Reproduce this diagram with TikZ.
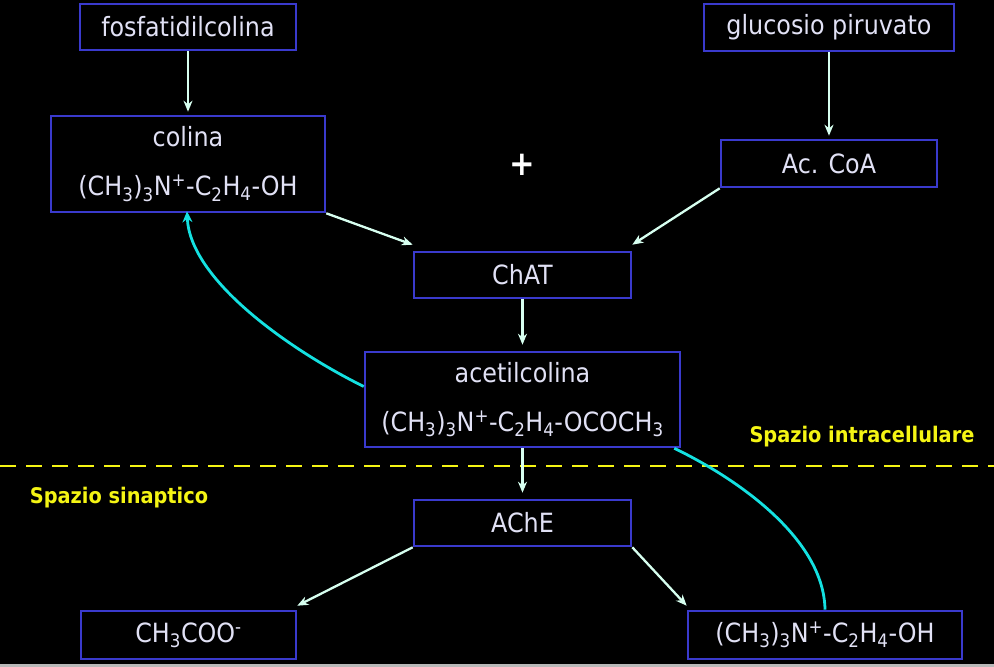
\documentclass[tikz,border=0pt]{standalone}
\usepackage{fontspec}
\setmainfont{DejaVu Sans Condensed}
\usetikzlibrary{arrows.meta,calc}
\definecolor{boxblue}{RGB}{58,58,205}
\definecolor{txt}{RGB}{225,225,245}
\definecolor{arr}{RGB}{215,255,240}
\definecolor{cy}{RGB}{20,225,225}
\definecolor{yel}{RGB}{245,245,20}
\tikzset{
  box/.style={draw=boxblue, line width=2.6pt, text=txt, inner sep=0pt, align=center,
    font=\fontsize{26.5}{49}\selectfont},
  flow/.style={draw=arr, line width=2.3pt, -{Stealth[length=11pt,width=9pt]}},
  recyc/.style={draw=cy, line width=2.8pt},
  lbl/.style={text=yel, font=\fontsize{21.5}{24}\selectfont\bfseries},
}
\begin{document}
\begin{tikzpicture}[x=1pt,y=-1pt]
\fill[black] (0,0) rectangle (994,667);
\fill[gray!55] (0,664) rectangle (994,667);
\useasboundingbox (0,0) rectangle (994,667);

\node[box, minimum width=216pt, minimum height=46pt] (fos) at (188,27) {fosfatidilcolina};
\node[box, minimum width=274pt, minimum height=96pt] (colina) at (188,164)
  {colina\\(CH\textsubscript{3})\textsubscript{3}N\textsuperscript{+}-C\textsubscript{2}H\textsubscript{4}-OH};
\node[box, minimum width=250pt, minimum height=47pt] (gluc) at (829,27.5) {glucosio piruvato};
\node[box, minimum width=216pt, minimum height=47pt] (acoa) at (829,163.5) {Ac. CoA};
\node[box, minimum width=217pt, minimum height=46pt] (chat) at (522.5,275) {ChAT};
\node[box, minimum width=315pt, minimum height=95pt] (acet) at (522.5,399.5)
  {acetilcolina\\(CH\textsubscript{3})\textsubscript{3}N\textsuperscript{+}-C\textsubscript{2}H\textsubscript{4}-OCOCH\textsubscript{3}};
\node[box, minimum width=217pt, minimum height=46pt] (ache) at (522.5,523) {AChE};
\node[box, minimum width=215pt, minimum height=48pt] (acetate) at (188.5,635) {CH\textsubscript{3}COO\textsuperscript{-}};
\node[box, minimum width=274pt, minimum height=48pt] (choh) at (825,635)
  {(CH\textsubscript{3})\textsubscript{3}N\textsuperscript{+}-C\textsubscript{2}H\textsubscript{4}-OH};

\node[text=white, font=\fontsize{34}{34}\selectfont\bfseries] (plus) at (522,165) {+};

\draw[yel, line width=2.5pt, dash pattern=on 16pt off 10pt] (0,466) -- (994,466);
\node[lbl] (intra) at (862,437) {Spazio intracellulare};
\node[lbl] (sinap) at (119,498) {Spazio sinaptico};

\draw[flow] (fos.south) -- ($(colina.north)+(0,-3)$);
\draw[flow] (gluc.south) -- ($(acoa.north)+(0,-3)$);
\draw[flow] (colina.south east) -- ($(chat.north west)+(0,-6)$);
\draw[flow] (acoa.south west) -- ($(chat.north east)+(0,-6)$);
\draw[flow] (chat.south) -- ($(acet.north)+(0,-6)$);
\draw[flow] (acet.south) -- ($(ache.north)+(0,-6)$);
\draw[flow] (ache.south west) -- ($(acetate.north east)+(0,-4)$);
\draw[flow] (ache.south east) -- ($(choh.north west)+(0,-4)$);

\draw[recyc, -{Stealth[length=11pt,width=10pt]}] ($(acet.west)+(0,-13)$)
  .. controls (290,350) and (190,280) .. ($(colina.south)+(-1,-2)$);
\draw[recyc] ($(acet.south east)+(-7,0)$)
  .. controls (740,480) and (824,540) .. (choh.north);
\end{tikzpicture}
\end{document}
